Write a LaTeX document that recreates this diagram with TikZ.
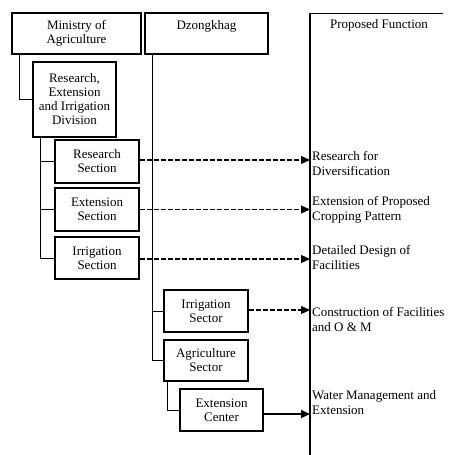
\documentclass[tikz,border=0pt]{standalone}
\usepackage{fontspec}
\setmainfont{Liberation Serif}
\usetikzlibrary{arrows.meta}
\begin{document}
\begin{tikzpicture}[x=1pt, y=-1pt,
        unit/.style={rectangle, draw, line width=1.2pt, align=center, inner sep=1pt, font=\fontsize{13}{14}\selectfont},
        function/.style={anchor=west, align=left, inner sep=2pt, font=\fontsize{13}{15}\selectfont},
        link/.style={line width=1pt},
        arrow/.style={-{Triangle[length=9pt,width=8pt]}, line width=1.1pt},
        dashline/.style={dash pattern=on 5pt off 2pt}
    ]
        \useasboundingbox (0,0) rectangle (451,455);

        % Ministry side
        \node[unit, minimum width=129pt, minimum height=41pt] (ministry) at (76.5,33.5) {Ministry of\\Agriculture};
        \node[unit, minimum width=83pt, minimum height=75pt] (div) at (74.5,99.5) {Research,\\Extension\\and Irrigation\\Division};
        \node[unit, minimum width=84pt, minimum height=43pt] (rsection) at (97,161.5) {Research\\Section};
        \node[unit, minimum width=84pt, minimum height=43pt] (extsection) at (97,209.5) {Extension\\Section};
        \node[unit, minimum width=84pt, minimum height=42pt] (irrsection) at (97,258) {Irrigation\\Section};
        \draw[link] ([xshift=8pt]ministry.south west) |- (div.west);
        \draw[link] ([xshift=8pt]div.south west) |- (irrsection.west);
        \draw[link] ([xshift=8pt]div.south west |- rsection.west) -- (rsection.west);
        \draw[link] ([xshift=8pt]div.south west |- extsection.west) -- (extsection.west);

        % Dzongkhag side
        \node[unit, minimum width=123pt, minimum height=41pt, text depth=18pt] (dzongkhag) at (206.5,33.5) {Dzongkhag};
        \node[unit, minimum width=84pt, minimum height=42pt] (irrsec) at (206,311) {Irrigation\\Sector};
        \node[unit, minimum width=84pt, minimum height=41pt] (agrsec) at (206,360.5) {Agriculture\\Sector};
        \node[unit, minimum width=83pt, minimum height=42pt] (extcenter) at (221.5,410) {Extension\\Center};
        \draw[link] ([xshift=8pt]dzongkhag.south west) |- (agrsec.west);
        \draw[link] ([xshift=8pt]dzongkhag.south west |- irrsec.west) -- (irrsec.west);
        \draw[link] ([xshift=4pt]agrsec.south west) |- (extcenter.west);

        % Proposed function column
        \coordinate (top) at (310,13);
        \coordinate (topend) at (443,13);
        \coordinate (bottom) at (310,455);
        \draw[line width=1.3pt] (top) -- (bottom);
        \draw[link] (top) -- (topend);
        \node[font=\fontsize{13}{14}\selectfont] (head) at (379,25) {Proposed Function};
        \node[function] (fn1) at (310,163) {Research for\\Diversification};
        \node[function] (fn2) at (310,210) {Extension of Proposed\\Cropping Pattern};
        \node[function] (fn3) at (310,257) {Detailed Design of\\Facilities};
        \node[function] (fn4) at (310,319) {Construction of Facilities\\and O \& M};
        \node[function] (fn5) at (310,403) {Water Management and\\Extension};

        % Arrows
        \draw[arrow, dashline] ([yshift=1.5pt]rsection.east) -- ([yshift=1.5pt]rsection.east -| fn1.west);
        \draw[arrow, dashline] (extsection.east) -- (extsection.east -| fn2.west);
        \draw[arrow, dashline] ([yshift=-1pt]irrsection.east) -- ([yshift=-1pt]irrsection.east -| fn3.west);
        \draw[arrow, dashline] ([yshift=1pt]irrsec.east) -- ([yshift=1pt]irrsec.east -| fn4.west);
        \draw[arrow, line width=1.8pt] ([yshift=-4pt]extcenter.east) -- ([yshift=-4pt]extcenter.east -| fn5.west);
    \end{tikzpicture}
\end{document}
